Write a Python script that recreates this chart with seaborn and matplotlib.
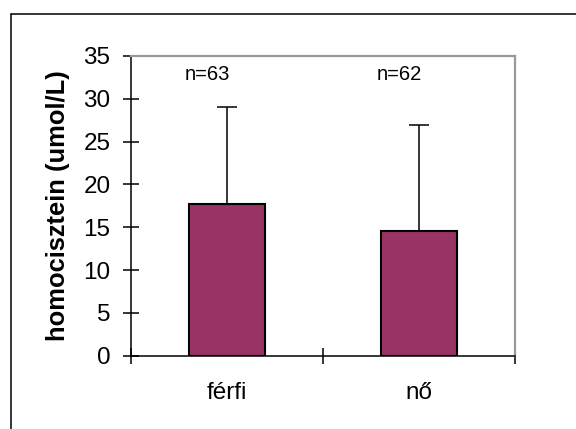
import matplotlib
matplotlib.use("Agg")
import matplotlib.pyplot as plt
import seaborn as sns
from matplotlib.lines import Line2D

categories = ["férfi", "nő"]
means = [17.7, 14.6]
sds = [11.4, 12.4]
n_labels = ["n=63", "n=62"]
yticks = [0, 5, 10, 15, 20, 25, 30, 35]

sns.set_style("white")
plt.rcParams['font.family'] = ['Liberation Sans', 'DejaVu Sans']
plt.rcParams.update({"text.color": "black", "axes.labelcolor": "black",
                     "xtick.color": "black", "ytick.color": "black"})

fig = plt.figure(figsize=(5.76, 4.29), dpi=100)
ax = fig.add_axes([131 / 576, 1 - 355.7 / 429, (515 - 131) / 576, (355.7 - 56) / 429])

sns.barplot(x=categories, y=means, color="#993366", saturation=1, width=0.4,
            edgecolor="black", linewidth=1.5, ax=ax)
ax.errorbar(range(len(means)), means, yerr=[[0] * len(sds), sds], fmt="none",
            ecolor="black", elinewidth=1.1, capsize=7, capthick=1.1, zorder=1)

for i, lab in enumerate(n_labels):
    ax.text(i - 0.1, 32.8, lab, ha="center", va="center", fontsize=14.5, color="black")

ax.set_xlim(-0.5, 1.5)
ax.set_ylim(0, 35)
ax.set_yticks(yticks)
ax.tick_params(axis="y", left=True, direction="inout", length=11.5, width=1.1,
               labelsize=17.5, pad=9, colors="black")
ax.tick_params(axis="x", which="major", length=0, labelsize=17.5, pad=19, colors="black")
ax.set_xticks([-0.5, 0.5, 1.5], minor=True)
ax.tick_params(axis="x", which="minor", bottom=True, direction="inout", length=12,
               width=1.1, colors="black")

for s in ["left", "bottom"]:
    ax.spines[s].set_color("black")
    ax.spines[s].set_linewidth(1.1)
for s in ["top", "right"]:
    ax.spines[s].set_color("#999999")
    ax.spines[s].set_linewidth(1.6)

ax.set_xlabel("")
ax.set_ylabel("homocisztein (umol/L)", fontsize=18.4, fontweight="bold", labelpad=10,
              color="black")

# outer chart border (left and top edges visible)
fig.add_artist(Line2D([11 / 576, 11 / 576], [0, 1 - 14 / 429], color="black", lw=1.1))
fig.add_artist(Line2D([11 / 576, 1], [1 - 14 / 429, 1 - 14 / 429], color="black", lw=1.1))

fig.savefig("out.png", dpi=100)
